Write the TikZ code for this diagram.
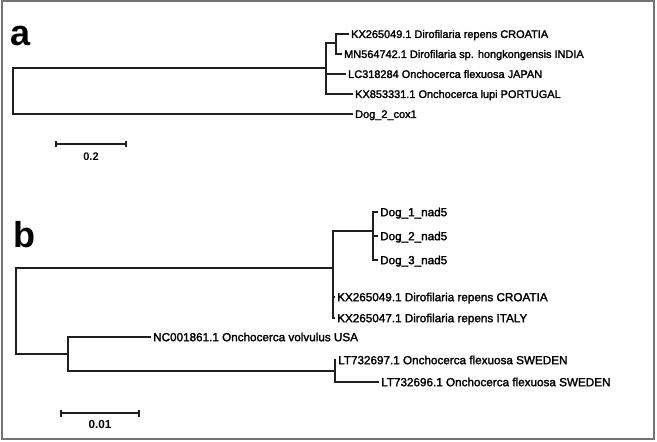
\documentclass[tikz,border=0pt]{standalone}
\usepackage{fontspec}
\setmainfont{Liberation Sans}
\newfontfamily\labfont{Liberation Sans}[FakeBold=2]
\begin{document}
\begin{tikzpicture}[x=1pt,y=-1pt,
  branch/.style={line width=1.5pt, draw=black!88, line join=miter},
  la/.style={anchor=west, inner xsep=2pt, inner ysep=0pt, font=\labfont\fontsize{10.95}{12}\selectfont, text height=7.9pt, text depth=0pt, text=black},
  lb/.style={anchor=west, inner xsep=2pt, inner ysep=0pt, font=\labfont\fontsize{11.7}{13}\selectfont, text height=8.4pt, text depth=0pt, text=black},
  scalelab/.style={inner sep=0pt, font=\bfseries\fontsize{11}{12}\selectfont, text height=7.9pt, text depth=0pt, text=black},
  panel/.style={anchor=base west, inner sep=0pt, font=\bfseries\fontsize{36}{38}\selectfont, text=black},
  frame/.style={draw=black!55, line width=1.3pt}
]
\useasboundingbox (0,0) rectangle (657,442);
\draw[frame] (2,1) rectangle (654,439);

% panel letters
\node[panel] (pa) at (10.5,45) {a};
\node[panel] (pb) at (13,247) {b};

% ---------- panel a ----------
\coordinate (aR) at (13,91);
\coordinate (A1) at (326,68);
\coordinate (A2) at (336,43);
\node[la] (kxa)  at (349,34) {KX265049.1 Dirofilaria repens CROATIA};
\node[la] (mn)   at (342,54) {MN564742.1 Dirofilaria sp. hongkongensis INDIA};
\node[la] (lc)   at (346,74) {LC318284 Onchocerca flexuosa JAPAN};
\node[la] (kx85) at (353,94) {KX853331.1 Onchocerca lupi PORTUGAL};
\node[la] (dogc) at (353,114) {Dog\_2\_cox1};

\draw[branch] (aR) |- (A1);
\draw[branch] (aR) |- (dogc.west);
\draw[branch] (A1) |- (A2);
\draw[branch] (A1) |- (lc.west);
\draw[branch] (A1) |- (kx85.west);
\draw[branch] (A2) |- (kxa.west);
\draw[branch] (A2) |- (mn.west);

% scale a
\coordinate (sa1) at (56,144);
\coordinate (sa2) at (126,144);
\draw[branch] (sa1) -- (sa2);
\draw[branch] ([yshift=3pt]sa1) -- ([yshift=-3pt]sa1);
\draw[branch] ([yshift=3pt]sa2) -- ([yshift=-3pt]sa2);
\node[scalelab] (sla) at (91,157) {0.2};

% ---------- panel b ----------
\coordinate (bR) at (16,311);
\coordinate (B1) at (333,268);
\coordinate (B2) at (373,231);
\coordinate (B3) at (68,354);
\coordinate (B4) at (335,371);
\node[lb] (d1)   at (378,212) {Dog\_1\_nad5};
\node[lb] (d2)   at (378,236) {Dog\_2\_nad5};
\node[lb] (d3)   at (378,260) {Dog\_3\_nad5};
\node[lb] (kxb)  at (335,297) {KX265049.1 Dirofilaria repens CROATIA};
\node[lb] (kx47) at (335,318) {KX265047.1 Dirofilaria repens ITALY};
\node[lb] (nc)   at (151,337) {NC001861.1 Onchocerca volvulus USA};
\node[lb] (lt97) at (336,360) {LT732697.1 Onchocerca flexuosa SWEDEN};
\node[lb] (lt96) at (379,382) {LT732696.1 Onchocerca flexuosa SWEDEN};

\draw[branch] (bR) |- (B1);
\draw[branch] (bR) |- (B3);
\draw[branch] (B1) |- (B2);
\draw[branch] (B1) |- (kxb.west);
\draw[branch] (B1) |- (kx47.west);
\draw[branch] (B2) |- (d1.west);
\draw[branch] (B2) |- (d2.west);
\draw[branch] (B2) |- (d3.west);
\draw[branch] (B3) |- (nc.west);
\draw[branch] (B3) |- (B4);
\draw[branch] (B4) |- (lt97.west);
\draw[branch] (B4) |- (lt96.west);

% scale b
\coordinate (sb1) at (61,413);
\coordinate (sb2) at (139,413);
\draw[branch] (sb1) -- (sb2);
\draw[branch] ([yshift=3.5pt]sb1) -- ([yshift=-3.5pt]sb1);
\draw[branch] ([yshift=3.5pt]sb2) -- ([yshift=-3.5pt]sb2);
\node[scalelab, font=\bfseries\fontsize{11.7}{13}\selectfont] (slb) at (100,425) {0.01};
\end{tikzpicture}
\end{document}
